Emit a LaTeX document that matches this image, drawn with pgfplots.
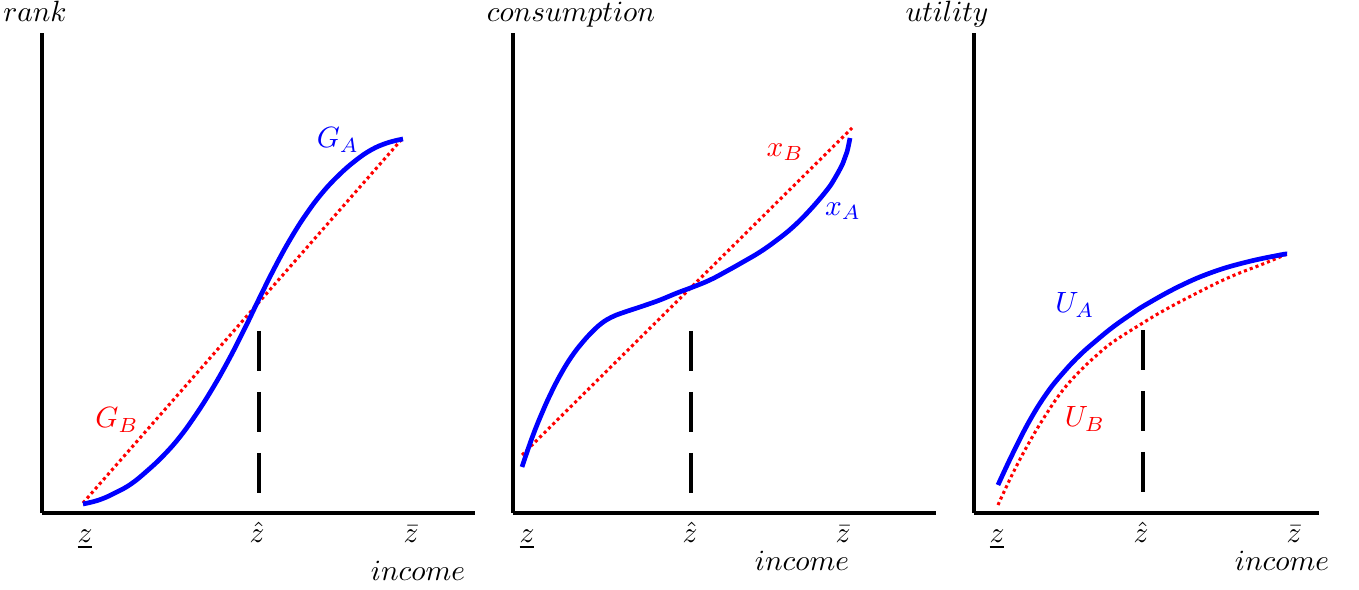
\documentclass[border=0pt]{standalone}
\usepackage{pgfplots}
\pgfplotsset{compat=1.18}
\pgfplotsset{panel/.style={
  x=0.341pt, y=0.341pt,
  axis lines=left,
  axis line style={-, line width=1.36pt, black},
  ymin=76, ymax=556,
  ytick=\empty,
  major tick length=0pt,
  clip=false,
  anchor=south west,
  xticklabel style={anchor=base, yshift=-10.2pt},
},
curveA/.style={blue, line width=1.6pt, smooth, tension=0.7},
curveB/.style={red, line width=1.05pt, dash pattern=on 1.05pt off 1.05pt},
hatline/.style={black, line width=1.4pt, dash pattern=on 13.6pt off 7.2pt}
}
\begin{document}
\begin{tikzpicture}
\path[use as bounding box] (0,0) rectangle (463.42pt,200.85pt);

% Panel 1: rank
\begin{axis}[panel, at={(14.32pt,25.92pt)}, xmin=42, xmax=475,
  xtick={85,257,411}, xticklabels={$\underline{z}$,$\hat{z}$,$\bar{z}$}]
\addplot[curveB] coordinates {(83,86) (402,450)};
\addplot[curveA] coordinates {(83,85) (99,89) (115,96) (131,105) (147,118) (163,133) (179,151) (195,173) (211,198) (227,226) (243,257) (259,290) (275,322) (291,351) (307,376) (323,397) (339,414) (355,428) (371,439) (387,446) (403,450)};
\addplot[hatline] coordinates {(259,258) (259,94)};
\node[blue] at (axis cs:338,449) {$G_A$};
\node[red] at (axis cs:117,169) {$G_B$};
\node[anchor=base] at (axis cs:35,567) {$rank$};
\node[anchor=base] at (axis cs:418,8) {$income$};
\end{axis}

% Panel 2: consumption
\begin{axis}[panel, at={(174.93pt,25.92pt)}, xmin=513, xmax=936,
  xtick={527,690,843}, xticklabels={$\underline{z}$,$\hat{z}$,$\bar{z}$}]
\addplot[curveB] coordinates {(522,134) (852,461)};
\addplot[curveA] coordinates {(522,122) (532,151) (542,176) (552,198) (562,217) (572,233) (582,246) (592,257) (602,266) (612,272) (622,276) (643,283) (660,289) (677,296) (693,302) (710,309) (727,318) (743,327) (760,337) (777,349) (793,362) (810,379) (827,399) (835,411) (843,426) (847,437) (850,451)};
\addplot[hatline] coordinates {(691,258) (691,94)};
\node[red] at (axis cs:785,437) {$x_B$};
\node[blue] at (axis cs:843,378) {$x_A$};
\node[anchor=base] at (axis cs:571,567) {$consumption$};
\node[anchor=base] at (axis cs:802,18) {$income$};
\end{axis}

% Panel 3: utility
\begin{axis}[panel, at={(332.13pt,25.92pt)}, xmin=974, xmax=1319,
  xtick={997,1141,1294}, xticklabels={$\underline{z}$,$\hat{z}$,$\bar{z}$}]
\addplot[curveB, smooth, tension=0.7] coordinates {(998,84) (1013,116) (1030,148) (1047,176) (1063,199) (1080,218) (1097,234) (1113,247) (1138,263) (1163,278) (1197,296) (1230,312) (1263,325) (1287,335)};
\addplot[curveA] coordinates {(998,104) (1013,136) (1030,169) (1047,196) (1063,216) (1080,234) (1097,249) (1113,262) (1130,274) (1147,285) (1180,303) (1213,317) (1247,327) (1280,334) (1287,335)};
\addplot[hatline] coordinates {(1143,259) (1143,94)};
\node[blue] at (axis cs:1075,284) {$U_A$};
\node[red] at (axis cs:1085,170) {$U_B$};
\node[anchor=base] at (axis cs:947,567) {$utility$};
\node[anchor=base] at (axis cs:1282,18) {$income$};
\end{axis}
\end{tikzpicture}
\end{document}
